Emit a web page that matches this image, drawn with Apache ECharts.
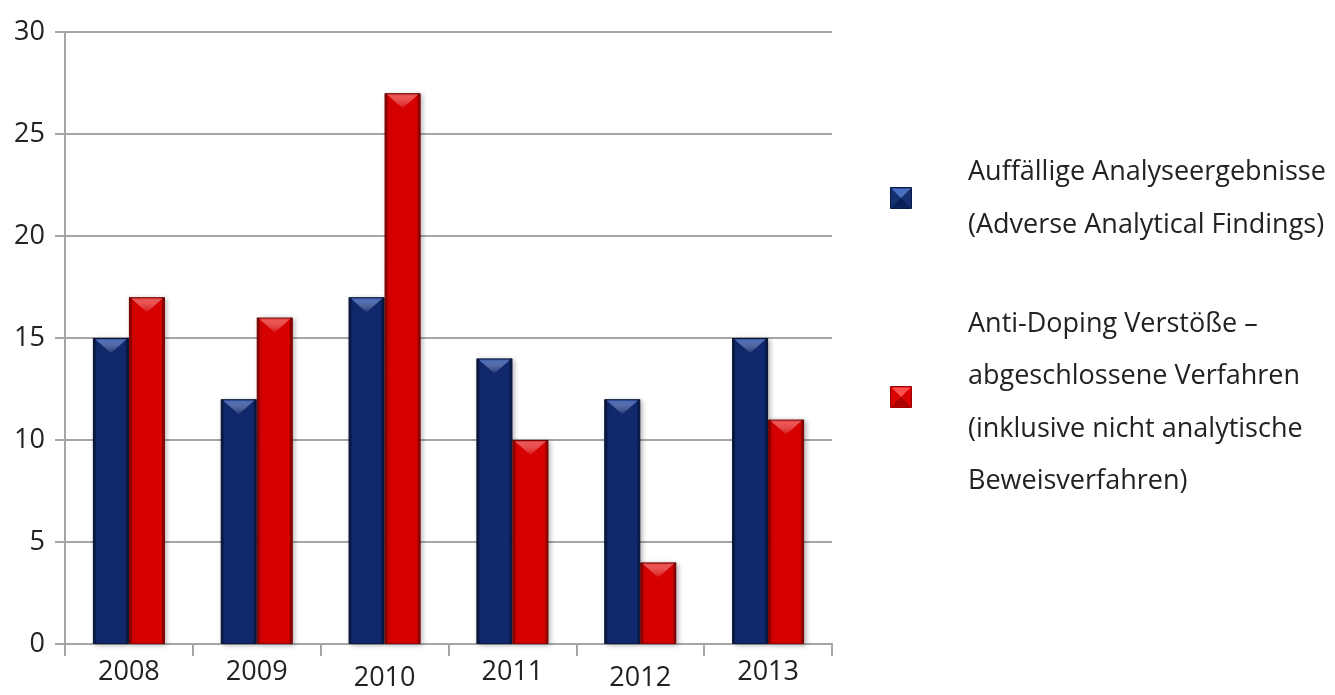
<!DOCTYPE html>
<html><head><meta charset="utf-8">
<script src="https://cdn.jsdelivr.net/npm/echarts@6/dist/echarts.min.js"></script>
<style>html,body{margin:0;padding:0;background:#fff}#c{width:1335px;height:695px}</style>
</head><body><div id="c"></div>
<script>
const years = ['2008','2009','2010','2011','2012','2013'];
const adverseFindings = [15,12,17,14,12,15];
const violations = [17,16,27,10,4,11];
const legendLines1 = 'Auffällige Analyseergebnisse\n(Adverse Analytical Findings)';
const legendLines2 = 'Anti-Doping Verstöße –\nabgeschlossene Verfahren\n(inklusive nicht analytische\nBeweisverfahren)';
const yTicks = {min:0,max:30,interval:5};

const font = '"Open Sans", Lato, sans-serif';
const BW = 36;
function grad(edge, mid){
  return new echarts.graphic.LinearGradient(0,0,1,0,[
    {offset:0,color:edge},{offset:0.1,color:mid},{offset:0.9,color:mid},{offset:1,color:edge}]);
}
function bevel(offset, light){
  return function(params, api){
    const i = api.value(0), v = api.value(1);
    const top = api.coord([i, v]);
    const base = api.coord([i, 0]);
    const cx = top[0] + offset, x0 = cx - BW/2, x1 = cx + BW/2, y = top[1];
    const d = Math.min(15, (base[1]-y)/2);
    return {type:'group', children:[
      {type:'polygon', shape:{points:[[x0+2,y+1],[x1-2,y+1],[cx,y+d]]},
        style:{fill:new echarts.graphic.LinearGradient(0,0,0,1,[{offset:0,color:light},{offset:1,color:'rgba(255,255,255,0.05)'}])}},
      {type:'rect', shape:{x:x0,y:y,width:3,height:base[1]-y}, style:{fill:'rgba(0,0,0,0.22)'}},
      {type:'rect', shape:{x:x1-3,y:y,width:3,height:base[1]-y}, style:{fill:'rgba(0,0,0,0.22)'}},
      {type:'rect', shape:{x:x0,y:y,width:BW,height:2}, style:{fill:'rgba(0,0,0,0.15)'}}
    ]};
  };
}
function icon(x, y, light, mid, dark, stroke){
  const s = 21, c = s/2;
  return {type:'group', left:x, top:y, children:[
    {type:'rect', shape:{x:0,y:0,width:s,height:s}, style:{fill:mid, stroke:stroke, lineWidth:1}},
    {type:'polygon', shape:{points:[[1,1],[s-1,1],[c,c]]}, style:{fill:light}},
    {type:'polygon', shape:{points:[[1,s-1],[s-1,s-1],[c,c]]}, style:{fill:dark}}
  ]};
}
const chart = echarts.init(document.getElementById('c'));
chart.setOption({
  animation:false,
  textStyle:{fontFamily:font},
  grid:{left:65,right:503,top:32,bottom:51},
  graphic:[
    icon(890, 187, '#4a6fc0', '#14306f', '#0b1f55', '#0a1a48'),
    icon(890, 386, '#ff4f4f', '#d80000', '#a80000', '#9a0000'),
    {type:'text', left:968, top:146, style:{text:legendLines1, font:'27px '+font, fill:'#222', lineHeight:53}},
    {type:'text', left:968, top:298, style:{text:legendLines2, font:'27px '+font, fill:'#222', lineHeight:52.5}}
  ],
  xAxis:{type:'category',data:years,
    axisLine:{lineStyle:{color:'#a6a6a6',width:2}},
    axisTick:{show:true,interval:0,alignWithLabel:false,length:12,lineStyle:{color:'#a6a6a6',width:2}},
    axisLabel:{interval:0,hideOverlap:false,fontSize:27,color:'#222',margin:15,fontFamily:font,
      formatter:(v,i)=> (i===2||i===4) ? '{lo|'+v+'}' : '{n|'+v+'}',
      rich:{n:{fontSize:27,color:'#222',fontFamily:font},lo:{fontSize:27,color:'#222',fontFamily:font,padding:[6,0,0,0]}}}},
  yAxis:{type:'value',min:yTicks.min,max:yTicks.max,interval:yTicks.interval,
    axisLine:{show:true,lineStyle:{color:'#a6a6a6',width:2}},
    axisTick:{show:true,length:10,lineStyle:{color:'#a6a6a6',width:2}},
    splitLine:{lineStyle:{color:'#a6a6a6',width:2}},
    axisLabel:{fontSize:27,color:'#222',margin:20,fontFamily:font}},
  series:[
    {name:'a',type:'bar',data:adverseFindings,barWidth:BW,barGap:'0%',
      itemStyle:{color:grad('#0a1c4f','#11296c'),borderColor:'#0a1a48',borderWidth:1,
        shadowColor:'rgba(0,0,0,0.3)',shadowBlur:5,shadowOffsetX:2,shadowOffsetY:1}},
    {name:'b',type:'bar',data:violations,barWidth:BW,
      itemStyle:{color:grad('#a80000','#d60000'),borderColor:'#9a0000',borderWidth:1,
        shadowColor:'rgba(0,0,0,0.3)',shadowBlur:5,shadowOffsetX:2,shadowOffsetY:1}},
    {type:'custom',silent:true,z:5,data:adverseFindings.map((v,i)=>[i,v]),renderItem:bevel(-BW/2,'rgba(90,130,220,0.75)')},
    {type:'custom',silent:true,z:5,data:violations.map((v,i)=>[i,v]),renderItem:bevel(BW/2,'rgba(255,110,110,0.75)')}
  ]
});
</script></body></html>
